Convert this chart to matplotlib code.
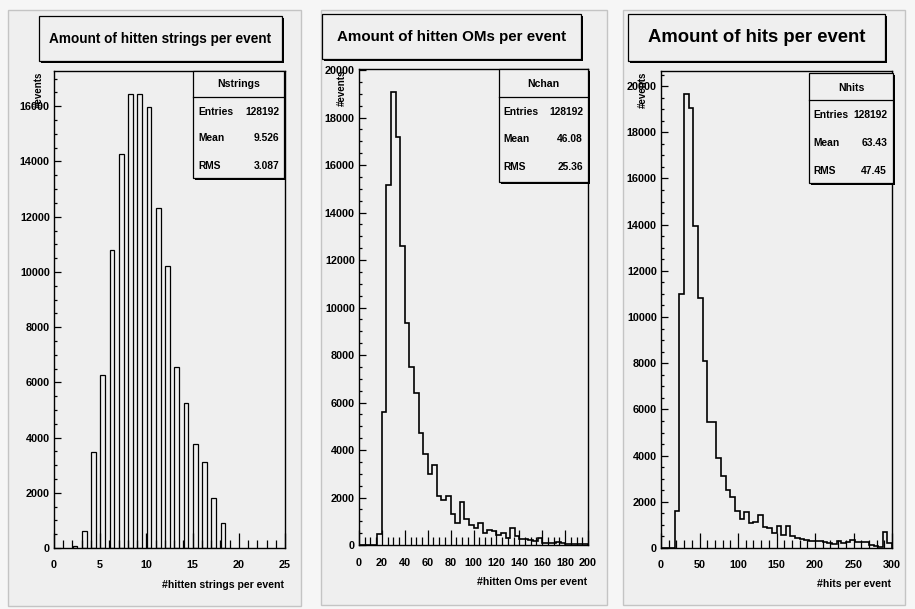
import numpy as np
import matplotlib
matplotlib.use("Agg")
import matplotlib.pyplot as plt
from matplotlib.patches import Rectangle
from matplotlib.lines import Line2D
from matplotlib.ticker import MultipleLocator

plt.rcParams['font.family'] = ['Liberation Sans', 'DejaVu Sans']
plt.rcParams['font.weight'] = 'bold'

# --- data --------------------------------------------------------------
# hit strings per event (integer values, drawn as bars)
strings_vals = [2, 3, 4, 5, 6, 7, 8, 9, 10, 11, 12, 13, 14, 15, 16, 17, 18]
strings_counts = [85, 616, 3480, 6260, 10780, 14260, 16455, 16430, 15975,
                  12300, 10230, 6540, 5270, 3770, 3130, 1825, 918]

# hit OMs per event, 50 bins over [0, 200]
chan_edges = np.linspace(0, 200, 51)
chan_counts = [0, 0, 0, 0, 480, 5600, 15160, 19090, 17200, 12570,
               9340, 7510, 6420, 4710, 3830, 2970, 3360, 2060, 1910, 2060,
               1320, 910, 1800, 1110, 840, 710, 920, 490, 630, 600,
               430, 520, 310, 700, 400, 265, 265, 210, 150, 290,
               100, 70, 100, 140, 70, 40, 50, 30, 40, 30]

# hits per event, 50 bins over [0, 300]
hits_edges = np.linspace(0, 300, 51)
hits_counts = [0, 0, 0, 1620, 10990, 19670, 19030, 13960, 10810, 8090,
               5440, 5470, 3900, 3100, 2530, 2210, 1600, 1240, 1570, 1100,
               1140, 1415, 910, 850, 660, 970, 580, 940, 520, 450,
               390, 350, 300, 290, 320, 260, 200, 170, 320, 220,
               260, 330, 260, 270, 270, 140, 90, 40, 690, 220]

titles = ["Amount of hitten strings per event",
          "Amount of hitten OMs per event",
          "Amount of hits per event"]
xlabels = ["#hitten strings per event", "#hitten Oms per event", "#hits per event"]
stat_names = ["Nstrings", "Nchan", "Nhits"]
stat_entries = ["128192", "128192", "128192"]
stat_means = ["9.526", "46.08", "63.43"]
stat_rms = ["3.087", "25.36", "47.45"]

# --- canvas ------------------------------------------------------------
W, H = 915, 609
BG = '#efefef'
fig = plt.figure(figsize=(W / 100, H / 100), dpi=100, facecolor='#f6f6f6')


def rect(x0, y0, x1, y1):
    # pixel box (top-left origin) -> figure fraction [l, b, w, h]
    return [x0 / W, 1 - y1 / H, (x1 - x0) / W, (y1 - y0) / H]


def fx(x):
    return x / W


def fy(y):
    return 1 - y / H


def pad(x0, y0, x1, y1):
    l, b, w, h = rect(x0, y0, x1, y1)
    fig.add_artist(Rectangle((l, b), w, h, transform=fig.transFigure,
                             facecolor=BG, edgecolor='#c4c4c4', lw=1, zorder=-5))


def shadow_box(x0, y0, x1, y1, sh=2):
    l, b, w, h = rect(x0 + sh, y0 + sh, x1 + sh, y1 + sh)
    fig.add_artist(Rectangle((l, b), w, h, transform=fig.transFigure,
                             facecolor='black', edgecolor='none', zorder=4))
    l, b, w, h = rect(x0, y0, x1, y1)
    fig.add_artist(Rectangle((l, b), w, h, transform=fig.transFigure,
                             facecolor=BG, edgecolor='black', lw=0.9, zorder=5))


def stats_box(box, div_y, head_y, rows_y, lab_x, val_x, name, entries, mean, rms):
    x0, y0, x1, y1 = box
    shadow_box(x0, y0, x1, y1)
    fig.add_artist(Line2D([fx(x0), fx(x1)], [fy(div_y), fy(div_y)],
                          transform=fig.transFigure, color='black', lw=0.9, zorder=6))
    fig.text(fx((x0 + x1) / 2), fy(head_y), name, ha='center', va='center',
             fontsize=7.6, zorder=7)
    for yy, lab, val in zip(rows_y, ["Entries", "Mean", "RMS"], [entries, mean, rms]):
        fig.text(fx(lab_x), fy(yy), lab, ha='left', va='center', fontsize=7.4, zorder=7)
        fig.text(fx(val_x), fy(yy), val, ha='right', va='center', fontsize=7.4, zorder=7)


pad(8, 10, 301, 606)
pad(321, 10, 607, 605)
pad(623, 10, 905, 605)

# layout per panel: axes box, title box, title size, stats box geometry
axes_px = [(54, 71, 285, 548), (359, 69, 588, 545), (661, 71, 892, 548)]
title_px = [(39, 16, 282, 61), (322, 14, 581, 59), (628, 14, 885, 61)]
title_fs = [9.8, 10.9, 13.3]
stats_px = [((193, 71, 284, 178), 97, 84, (112, 138, 166), 198, 279),
            ((499, 69, 588, 182), 97, 84, (112, 139, 167), 503, 583),
            ((809, 73, 893, 183), 100, 88, (115, 143, 171), 813, 887)]
ylab_x = [38.5, 341.5, 643]
xlab_pos = [(284, 585), (587, 582), (891, 584)]
xlims = [(0, 25), (0, 200), (0, 300)]
xticks = [(5, 1), (20, 5), (50, 10)]

axes = []
for i in range(3):
    ax = fig.add_axes(rect(*axes_px[i]))
    ax.set_facecolor(BG)
    for sp in ax.spines.values():
        sp.set_linewidth(1.0)
        sp.set_color('black')
    axes.append(ax)

ax1, ax2, ax3 = axes
ax1.bar(np.asarray(strings_vals) + 0.02, strings_counts, width=0.52, align='edge',
        facecolor='none', edgecolor='black', linewidth=0.9)
ax2.stairs(chan_counts, chan_edges, baseline=0, color='black', linewidth=1.2)
ax3.stairs(hits_counts, hits_edges, baseline=0, color='black', linewidth=1.2)

ymaxes = [max(strings_counts) * 1.05, max(chan_counts) * 1.05, max(hits_counts) * 1.05]

for i, ax in enumerate(axes):
    ax.set_xlim(*xlims[i])
    ax.set_ylim(0, ymaxes[i])
    ax.xaxis.set_major_locator(MultipleLocator(xticks[i][0]))
    ax.xaxis.set_minor_locator(MultipleLocator(xticks[i][1]))
    ax.yaxis.set_major_locator(MultipleLocator(2000))
    ax.yaxis.set_minor_locator(MultipleLocator(500))
    ax.tick_params(axis='x', which='major', direction='in', length=11, width=0.9,
                   pad=9, labelsize=7.8)
    ax.tick_params(axis='x', which='minor', direction='in', length=5.5, width=0.9)
    ax.tick_params(axis='y', which='major', direction='in', length=5, width=0.9,
                   pad=3, labelsize=7.8)
    ax.tick_params(axis='y', which='minor', direction='in', length=2.5, width=0.9)
    for lab in ax.get_xticklabels() + ax.get_yticklabels():
        lab.set_fontweight('bold')

    # title pave
    tx0, ty0, tx1, ty1 = title_px[i]
    shadow_box(tx0, ty0, tx1, ty1)
    fig.text(fx((tx0 + tx1) / 2), fy((ty0 + ty1) / 2), titles[i], ha='center',
             va='center', fontsize=title_fs[i], zorder=7)

    # stats pave
    box, dy, hy, rows, lx, vx = stats_px[i]
    stats_box(box, dy, hy, rows, lx, vx, stat_names[i], stat_entries[i],
              stat_means[i], stat_rms[i])

    # axis titles (y title sits at the top end of the axis, over the tick labels)
    fig.text(fx(ylab_x[i]), fy(axes_px[i][1] + 1), "#events", rotation=90,
             ha='center', va='top', fontsize=7, zorder=7)
    fig.text(fx(xlab_pos[i][0]), fy(xlab_pos[i][1]), xlabels[i], ha='right',
             va='center', fontsize=7.6, zorder=7)

fig.savefig("out.png", dpi=100, facecolor=fig.get_facecolor())
